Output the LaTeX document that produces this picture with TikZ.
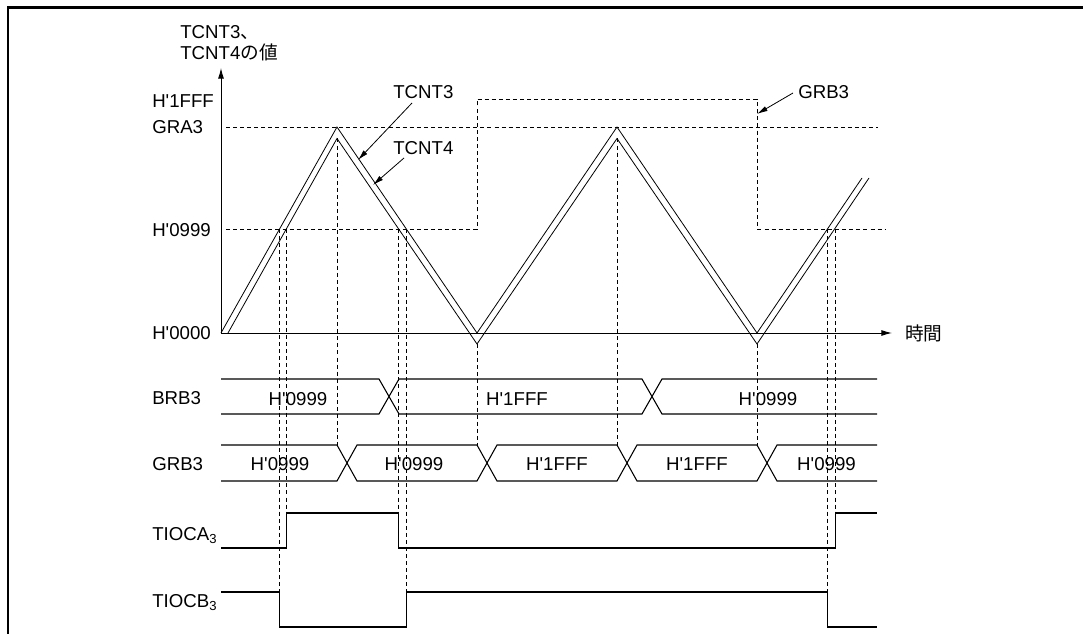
\documentclass[tikz,border=0pt]{standalone}
\usepackage{fontspec}
\setmainfont{Liberation Sans}[Ligatures=TeXOff]
\newfontfamily\jpfont{Noto Sans CJK JP}
\usetikzlibrary{arrows.meta}
\begin{document}
\begin{tikzpicture}[x=0.75pt,y=-0.75pt,
  lbl/.style={font=\fontsize{14}{16}\selectfont, inner sep=0pt},
  wave/.style={line width=0.6pt, line join=miter},
  sig/.style={line width=0.8pt},
  axisline/.style={line width=0.7pt, -{Latex[length=8pt,width=4.5pt]}},
  dsh/.style={line width=0.6pt, dash pattern=on 3pt off 2.3pt},
  arr/.style={line width=0.6pt, -{Latex[length=8pt,width=4pt]}},
]
\useasboundingbox (0,0) rectangle (1083,634);
% frame
\coordinate (fbl) at (8,634); \coordinate (ftl) at (8,7.5); \coordinate (ftr) at (1083,7.5);
\draw[line width=2pt] (fbl) -- (ftl) -- (ftr);

% axes
\coordinate (O) at (221,333);
\coordinate (ytop) at (221,68);
\coordinate (xend) at (892,333);
\draw[axisline] (O) -- (ytop);
\draw[axisline] (O) -- (xend);
\node[lbl, anchor=base west] (ylab1) at (180,39) {TCNT3{\jpfont 、}};
\node[lbl, anchor=base west] (ylab2) at (180,60) {TCNT4{\jpfont の値}};
\node[lbl, anchor=west] (tlab) at (905,333) {\jpfont 時間};

% level labels
\node[lbl, anchor=base west] (l1fff) at (152,108) {H'1FFF};
\node[lbl, anchor=base west] (lgra) at (152,134) {GRA3};
\node[lbl, anchor=base west] (l0999) at (152,236.5) {H'0999};
\node[lbl, anchor=base west] (l0000) at (152,339.5) {H'0000};

% dashed reference levels
\coordinate (gra0) at (226,127); \coordinate (gra1) at (878,127);
\draw[dsh] (gra0) -- (gra1);
\coordinate (g0) at (226,229); \coordinate (g1) at (477,229); \coordinate (g2) at (477,99);
\coordinate (g3) at (757,99); \coordinate (g4) at (757,229); \coordinate (g5) at (885,229);
\draw[dsh] (g0) -- (g1) -- (g2) -- (g3) -- (g4) -- (g5);

% TCNT3 and TCNT4
\coordinate (a0) at (221,333); \coordinate (a1) at (337,127); \coordinate (a2) at (477,333);
\coordinate (a3) at (617,127); \coordinate (a4) at (757,333); \coordinate (a5) at (862,178);
\coordinate (b0) at (228,333); \coordinate (b1) at (337,138.5); \coordinate (b2) at (477,344);
\coordinate (b3) at (617,138.5); \coordinate (b4) at (757,344); \coordinate (b5) at (869,178);
\draw[wave] (a0) -- (a1) -- (a2) -- (a3) -- (a4) -- (a5);
\draw[wave] (b0) -- (b1) -- (b2) -- (b3) -- (b4) -- (b5);

% annotations
\node[lbl, anchor=base west] (nt3) at (393,98.3) {TCNT3};
\node[lbl, anchor=base west] (nt4) at (393,154.3) {TCNT4};
\node[lbl, anchor=base west] (ngrb) at (798,98.3) {GRB3};
\coordinate (t3s) at (412,103); \coordinate (t3e) at (358,160);
\coordinate (t4s) at (404,158); \coordinate (t4e) at (373,185);
\coordinate (gbs) at (793,93); \coordinate (gbe) at (757,114);
\draw[arr] (t3s) -- (t3e);
\draw[arr] (t4s) -- (t4e);
\draw[arr] (gbs) -- (gbe);

% crossing / event verticals
\coordinate (c1) at (279.6,229); \coordinate (c2) at (286.3,229);
\coordinate (c3) at (398.7,229); \coordinate (c4) at (406.3,229);
\coordinate (c5) at (827.7,229); \coordinate (c6) at (835.3,229);
\draw[dsh] (c1) -- (279.6,592);
\draw[dsh] (c2) -- (286.3,513);
\draw[dsh] (c3) -- (398.7,513);
\draw[dsh] (c4) -- (406.3,592);
\draw[dsh] (c5) -- (827.7,592);
\draw[dsh] (c6) -- (835.3,513);
\draw[dsh] (b1) -- (337,445);
\draw[dsh] (b2) -- (477,445);
\draw[dsh] (b3) -- (617,445);
\draw[dsh] (b4) -- (757,445);

% signal labels
\node[lbl, anchor=base west] (sbrb) at (152,405) {BRB3};
\node[lbl, anchor=base west] (sgrb) at (152,470.5) {GRB3};
\node[lbl, anchor=base west] (stia) at (152,541) {TIOCA\textsubscript{3}};
\node[lbl, anchor=base west] (stib) at (152,608) {TIOCB\textsubscript{3}};

% BRB3 bus
\draw[sig] (221,379) -- (379,379) -- (399,414) -- (642,414) -- (662,379) -- (877,379);
\draw[sig] (221,414) -- (379,414) -- (399,379) -- (642,379) -- (662,414) -- (877,414);
\node[lbl, anchor=base] (bv1) at (298,405.5) {H'0999};
\node[lbl, anchor=base] (bv2) at (517,405.5) {H'1FFF};
\node[lbl, anchor=base] (bv3) at (768,405.5) {H'0999};

% GRB3 bus
\draw[sig] (221,445) -- (337,445) -- (357,481) -- (477,481) -- (497,445) -- (617,445) -- (637,481) -- (757,481) -- (777,445) -- (877,445);
\draw[sig] (221,481) -- (337,481) -- (357,445) -- (477,445) -- (497,481) -- (617,481) -- (637,445) -- (757,445) -- (777,481) -- (877,481);
\node[lbl, anchor=base] (gv1) at (280,471) {H'0999};
\node[lbl, anchor=base] (gv2) at (414,471) {H'0999};
\node[lbl, anchor=base] (gv3) at (557,471) {H'1FFF};
\node[lbl, anchor=base] (gv4) at (697,471) {H'1FFF};
\node[lbl, anchor=base] (gv5) at (826.5,471) {H'0999};

% TIOCA3
\draw[sig] (221,548) -- (286.3,548) -- (286.3,513) -- (398.7,513) -- (398.7,548) -- (835.3,548) -- (835.3,513) -- (877,513);
% TIOCB3
\draw[sig] (221,592) -- (279.6,592) -- (279.6,627) -- (406.3,627) -- (406.3,592) -- (827.7,592) -- (827.7,627) -- (877,627);
\end{tikzpicture}
\end{document}
